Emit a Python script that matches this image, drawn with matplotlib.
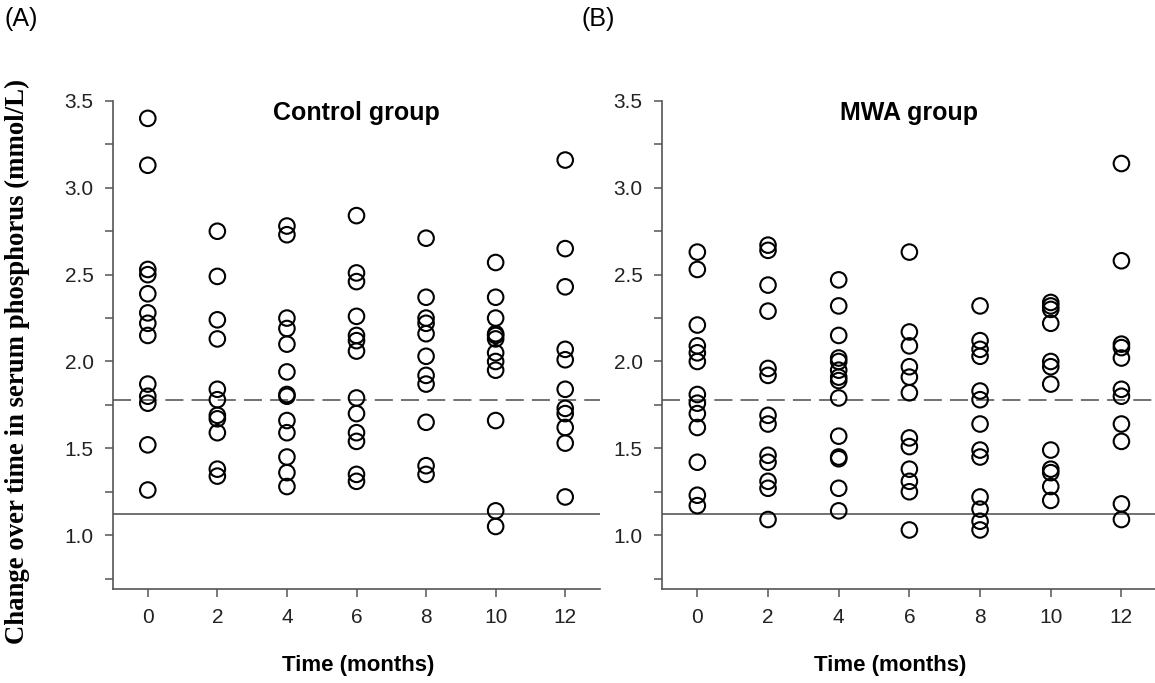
import matplotlib
matplotlib.use("Agg")
import matplotlib.pyplot as plt
from matplotlib.ticker import MultipleLocator

months = [0, 2, 4, 6, 8, 10, 12]

control_values = [
    [3.40, 3.13, 2.53, 2.50, 2.39, 2.28, 2.22, 2.15, 1.87, 1.80, 1.76, 1.52, 1.26],
    [2.75, 2.49, 2.24, 2.13, 1.84, 1.78, 1.69, 1.67, 1.59, 1.38, 1.34],
    [2.78, 2.73, 2.25, 2.19, 2.10, 1.94, 1.81, 1.80, 1.66, 1.59, 1.45, 1.36, 1.28],
    [2.84, 2.51, 2.46, 2.26, 2.15, 2.12, 2.06, 1.79, 1.70, 1.59, 1.54, 1.35, 1.31],
    [2.71, 2.37, 2.25, 2.22, 2.16, 2.03, 1.92, 1.87, 1.65, 1.40, 1.35],
    [2.57, 2.37, 2.25, 2.16, 2.15, 2.13, 2.05, 2.00, 1.95, 1.66, 1.14, 1.05],
    [3.16, 2.65, 2.43, 2.07, 2.01, 1.84, 1.73, 1.70, 1.62, 1.53, 1.22],
]

mwa_values = [
    [2.63, 2.53, 2.21, 2.09, 2.05, 2.00, 1.81, 1.76, 1.70, 1.62, 1.42, 1.23, 1.17],
    [2.67, 2.64, 2.44, 2.29, 1.96, 1.92, 1.69, 1.64, 1.46, 1.42, 1.31, 1.27, 1.09],
    [2.47, 2.32, 2.15, 2.02, 2.00, 1.95, 1.91, 1.89, 1.79, 1.57, 1.45, 1.44, 1.27, 1.14],
    [2.63, 2.17, 2.09, 1.97, 1.91, 1.82, 1.56, 1.51, 1.38, 1.31, 1.25, 1.03],
    [2.32, 2.12, 2.07, 2.03, 1.83, 1.78, 1.64, 1.49, 1.45, 1.22, 1.15, 1.08, 1.03],
    [2.34, 2.32, 2.30, 2.22, 2.00, 1.97, 1.87, 1.49, 1.38, 1.36, 1.28, 1.20],
    [3.14, 2.58, 2.10, 2.08, 2.02, 1.84, 1.80, 1.64, 1.54, 1.18, 1.09],
]

upper_limit = 1.78
lower_limit = 1.12

panel_titles = ["Control group", "MWA group"]
panel_letters = ["(A)", "(B)"]
xlabel = "Time (months)"
ylabel = "Change over time in serum phosphorus (mmol/L)"
ytick_values = [1.0, 1.5, 2.0, 2.5, 3.0, 3.5]
ytick_labels = ["1.0", "1.5", "2.0", "2.5", "3.0", "3.5"]

W, H = 1155, 683
fig = plt.figure(figsize=(W / 100, H / 100), dpi=100)

axis_color = "#555555"
sans = ["Liberation Sans", "DejaVu Sans"]

ax_left = fig.add_axes([113 / W, (H - 589) / H, (600 - 113) / W, 488 / H])
ax_right = fig.add_axes([662 / W, (H - 589) / H, (W - 662) / W, 488 / H])

for ax, data, title, xmax in [(ax_left, control_values, panel_titles[0], 13.0),
                              (ax_right, mwa_values, panel_titles[1], 12.95)]:
    for m, vals in zip(months, data):
        ax.scatter([m] * len(vals), vals, s=125, facecolors="none",
                   edgecolors="black", linewidths=1.5, zorder=3)
    ax.axhline(upper_limit, color="#666666", lw=1.3, ls=(0, (10, 4.5)), zorder=1)
    ax.axhline(lower_limit, color="#666666", lw=1.3, zorder=1)
    ax.set_xlim(-1, xmax)
    ax.set_ylim(0.69, 3.5)
    ax.set_xticks(months)
    ax.yaxis.set_minor_locator(MultipleLocator(0.25))
    ax.set_yticks(ytick_values)
    ax.set_yticklabels(ytick_labels)
    for s in ["top", "right"]:
        ax.spines[s].set_visible(False)
    for s in ["left", "bottom"]:
        ax.spines[s].set_color(axis_color)
        ax.spines[s].set_linewidth(1.2)
    ax.tick_params(axis="both", which="both", direction="out", color=axis_color,
                   width=1.1, labelcolor="#222222", labelsize=15, pad=8)
    ax.tick_params(axis="both", which="major", length=6)
    ax.tick_params(axis="y", which="minor", length=6)
    for lab in ax.get_xticklabels() + ax.get_yticklabels():
        lab.set_family(sans)
    ax.text(0.5, 1.0, title, transform=ax.transAxes, ha="center", va="top",
            fontsize=18, fontweight="bold", family=sans)

fig.text(358 / W, 1 - 666 / H, xlabel, ha="center", va="center",
         fontsize=16, fontweight="bold", family=sans)
fig.text(890 / W, 1 - 666 / H, xlabel, ha="center", va="center",
         fontsize=16, fontweight="bold", family=sans)

fig.text(17 / W, 1 - 362 / H, ylabel, ha="center", va="center", rotation=90,
         fontsize=19.3, fontweight="bold", family=["Liberation Serif", "DejaVu Serif"])

fig.text(4 / W, 1 - 19 / H, panel_letters[0], ha="left", va="center",
         fontsize=18, family=sans)
fig.text(582 / W, 1 - 19 / H, panel_letters[1], ha="left", va="center",
         fontsize=18, family=sans)

fig.savefig("out.png", dpi=100)
